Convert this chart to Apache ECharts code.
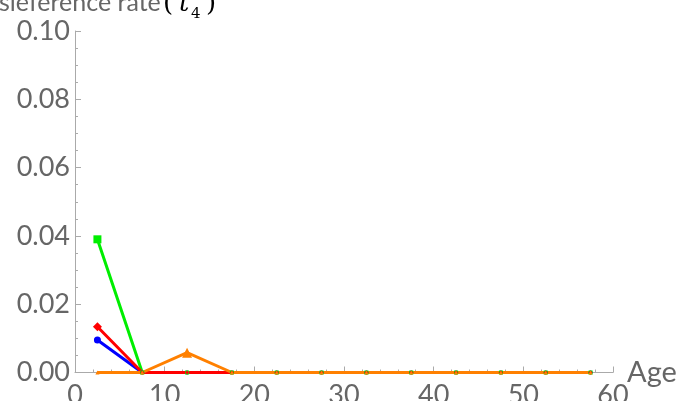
<!DOCTYPE html>
<html><head><meta charset="utf-8">
<script src="https://cdn.jsdelivr.net/npm/echarts@6/dist/echarts.min.js"></script>
<style>html,body{margin:0;padding:0;background:#fff}#c{width:694px;height:401px}</style>
</head><body><div id="c"></div>
<script>
var ages = [2.5, 7.5, 12.5, 17.5, 22.5, 27.5, 32.5, 37.5, 42.5, 47.5, 52.5, 57.5];
var blueVals   = [0.0095, 0, 0, 0, 0, 0, 0, 0, 0, 0, 0, 0];
var greenVals  = [0.039, 0, 0, 0, 0, 0, 0, 0, 0, 0, 0, 0];
var redVals    = [0.0134, 0, 0, 0, 0, 0, 0, 0, 0, 0, 0, 0];
var orangeVals = [0, 0, 0.0058, 0, 0, 0, 0, 0, 0, 0, 0, 0];
var xTicks = [0, 10, 20, 30, 40, 50, 60];
var yTicks = [0, 0.02, 0.04, 0.06, 0.08, 0.10];

function pairs(v){ return ages.map(function(a,i){ return [a, v[i]]; }); }
function ser(name, vals, color, symbol, size){
  return { name:name, type:'line', data:pairs(vals), symbol:symbol,
    symbolSize:function(d){ return d[1] === 0 ? 4 : size; },
    lineStyle:{color:color, width:3}, itemStyle:{color:color}, clip:false, animation:false };
}
var FONT = 'Lato';
var chart = echarts.init(document.getElementById('c'), null, {renderer:'canvas'});
chart.setOption({
  animation:false,
  grid:{left:75, right:81, top:31, bottom:28.5, containLabel:false, outerBoundsMode:'none'},
  xAxis:{type:'value', min:xTicks[0], max:xTicks[xTicks.length-1], interval:10,
    axisLine:{show:true, onZero:false, lineStyle:{color:'#aaaaaa', width:1}},
    axisTick:{show:true, inside:true, length:6, lineStyle:{color:'#aaaaaa'}},
    minorTick:{show:true, splitNumber:5, length:3, lineStyle:{color:'#aaaaaa'}},
    splitLine:{show:false},
    axisLabel:{color:'#666666', fontSize:27, fontFamily:FONT, margin:9}
  },
  yAxis:{type:'value', min:yTicks[0], max:yTicks[yTicks.length-1], interval:0.02,
    axisLine:{show:true, onZero:false, lineStyle:{color:'#aaaaaa', width:1}},
    axisTick:{show:true, inside:true, length:6, lineStyle:{color:'#aaaaaa'}},
    minorTick:{show:true, splitNumber:4, length:3, lineStyle:{color:'#aaaaaa'}},
    splitLine:{show:false},
    axisLabel:{color:'#666666', fontSize:27, fontFamily:FONT, margin:5,
      formatter:function(v){ return v.toFixed(2); }}
  },
  series:[
    ser('blue', blueVals, '#0000ff', 'circle', 7),
    ser('green', greenVals, '#00ee00', 'rect', 8),
    ser('red', redVals, '#ff0000', 'diamond', 9),
    ser('orange', orangeVals, '#ff8000', 'triangle', 10)
  ],
  graphic:[
    {type:'text', x:-1, y:3, style:{text:'sieference rate', fill:'#666666', font:'25px Lato', align:'left', verticalAlign:'middle'}},
    {type:'text', x:163, y:4, style:{text:'(', fill:'#000', font:'26px "DejaVu Serif"', align:'left', verticalAlign:'middle'}},
    {type:'text', x:179, y:4, style:{text:'t', fill:'#000', font:'italic 26px "DejaVu Serif"', align:'left', verticalAlign:'middle'}},
    {type:'text', x:191, y:14, style:{text:'4', fill:'#000', font:'15px "DejaVu Serif"', align:'left', verticalAlign:'middle'}},
    {type:'text', x:206, y:4, style:{text:')', fill:'#000', font:'26px "DejaVu Serif"', align:'left', verticalAlign:'middle'}},
    {type:'text', x:627, y:373, style:{text:'Age', fill:'#666666', font:'29px Lato', align:'left', verticalAlign:'middle'}}
  ]
});
</script></body></html>
